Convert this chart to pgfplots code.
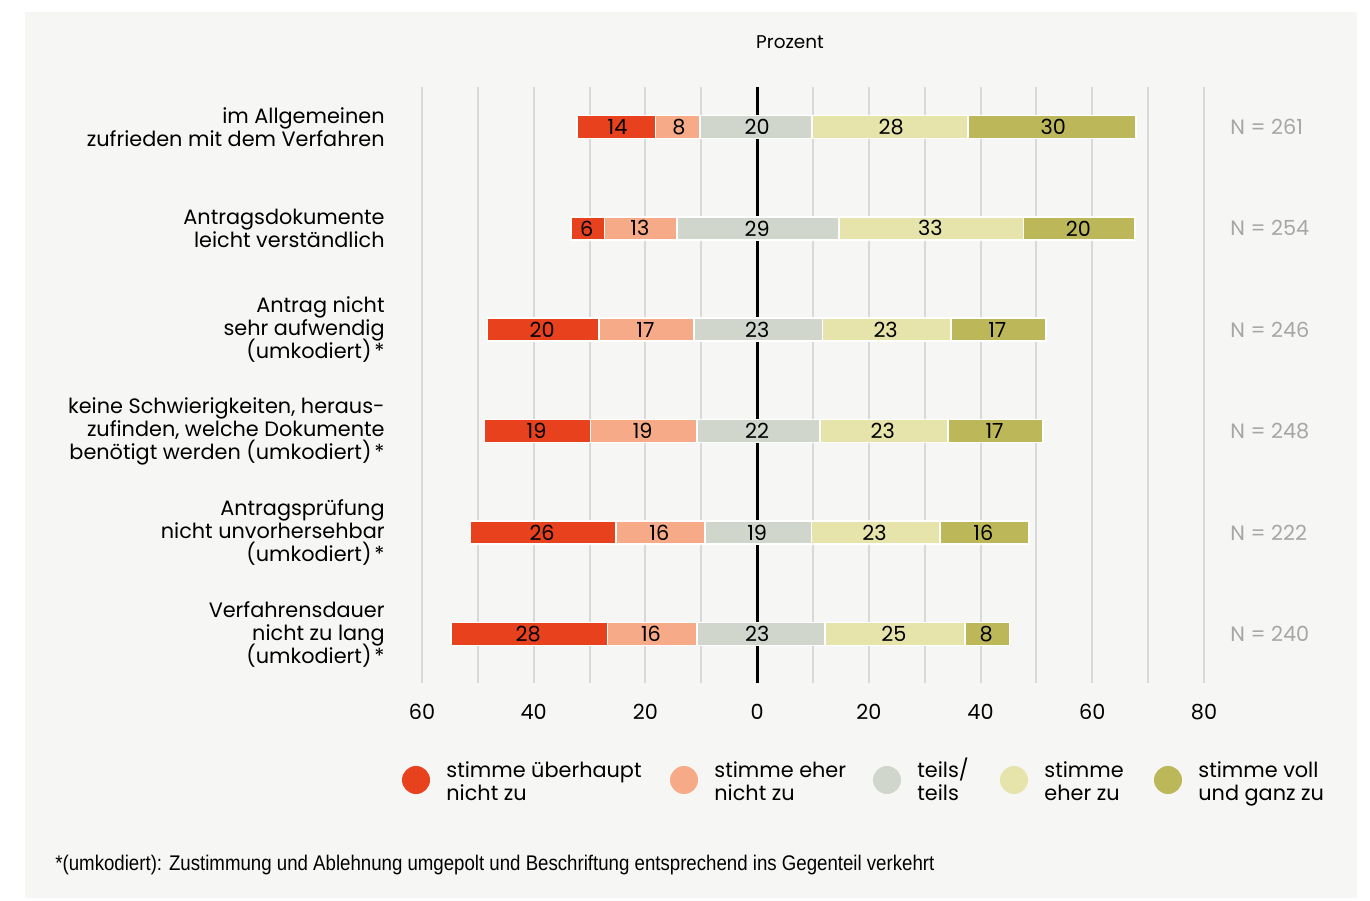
\documentclass[border=0pt]{standalone}
\usepackage{fontspec}
\setmainfont{Poppins}
\newfontfamily\condfont[FakeStretch=0.88]{Liberation Sans}
\usepackage{pgfplots}
\pgfplotsset{compat=1.18}
\definecolor{cA}{HTML}{E8411E}
\definecolor{cB}{HTML}{F6AA88}
\definecolor{cC}{HTML}{D0D6CC}
\definecolor{cD}{HTML}{E6E4AA}
\definecolor{cE}{HTML}{BCB85A}
\definecolor{bg}{HTML}{F6F6F4}
\definecolor{gridc}{HTML}{D9D9D7}
\definecolor{ngray}{HTML}{A6A6A6}
\newcommand\lblfont{\fontsize{10.4}{11.5}\selectfont\lineskiplimit=-20pt\lineskip=0pt}
\begin{document}
\begin{tikzpicture}
\begin{scope}[x=0.5pt,y=0.5pt]
\fill[white] (0,0) rectangle (1370,900);
\fill[bg] (25,2) rectangle (1357,888);
\end{scope}
\pgfplotsset{commonax/.style={
  at={(211pt,108.5pt)}, anchor=south west, scale only axis,
  width=391pt, height=298pt,
  xmin=-60, xmax=80, ymin=0.517, ymax=6.394,
  axis line style={draw=none},
  major tick length=0pt, minor tick length=0pt,
  /pgf/number format/assume math mode=true,
  tick label style={font=\lblfont},
}}
\begin{axis}[commonax,
  xbar stacked, stack negative=on previous, bar width=11.5pt,
  xtick={-60,-40,...,80}, xticklabels={60,40,20,0,20,40,60,80},
  minor xtick={-50,-30,...,70},
  xmajorgrids, xminorgrids,
  grid style={gridc, line width=1pt},
  extra x ticks={0}, extra x tick labels={},
  extra x tick style={grid style={black, line width=1.4pt}},
  xticklabel style={anchor=center, yshift=-14.5pt},
  ytick={1,...,6},
  yticklabels={{Verfahrensdauer\\nicht zu lang\\(umkodiert)\kern1.5pt*},
    {Antragsprüfung\\nicht unvorhersehbar\\(umkodiert)\kern1.5pt*},
    {keine Schwierigkeiten, heraus-\\zufinden, welche Dokumente\\benötigt werden (umkodiert)\kern1.5pt*},
    {Antrag nicht\\sehr aufwendig\\(umkodiert)\kern1.5pt*},
    {Antragsdokumente\\leicht verständlich},
    {im Allgemeinen\\zufrieden mit dem Verfahren}},
  yticklabel style={align=right, anchor=east, inner sep=0pt, xshift=-18.5pt},
  every axis plot/.append style={draw=white, line width=0.8pt},
]
\addplot[draw=none, fill=none] coordinates {(-54.8,1) (-51.3,2) (-48.8,3) (-48.3,4) (-33.3,5) (-32.2,6)};
\addplot[fill=cA] coordinates {(28,1) (26,2) (19,3) (20,4) (6,5) (14,6)};
\addplot[fill=cB] coordinates {(16,1) (16,2) (19,3) (17,4) (13,5) (8,6)};
\addplot[fill=cC] coordinates {(23,1) (19,2) (22,3) (23,4) (29,5) (20,6)};
\addplot[fill=cD] coordinates {(25,1) (23,2) (23,3) (23,4) (33,5) (28,6)};
\addplot[fill=cE] coordinates {(8,1) (16,2) (17,3) (17,4) (20,5) (30,6)};
\end{axis}
\begin{axis}[commonax,
  xtick=\empty, ytick={1,...,6},
  yticklabels={N = 240, N = 222, N = 248, N = 246, N = 254, N = 261},
  yticklabel pos=right,
  yticklabel style={anchor=west, inner sep=0pt, xshift=13pt, text=ngray},
  nodes near coords, point meta=explicit symbolic,
  every node near coord/.append style={anchor=center, font=\lblfont, text=black},
]
\addplot[only marks, mark=none] coordinates {
 (-25,6) [14] (-14,6) [8] (0,6) [20] (24,6) [28] (53,6) [30]
 (-30.5,5) [6] (-21,5) [13] (0,5) [29] (31,5) [33] (57.5,5) [20]
 (-38.5,4) [20] (-20,4) [17] (0,4) [23] (23,4) [23] (43,4) [17]
 (-39.5,3) [19] (-20.5,3) [19] (0,3) [22] (22.5,3) [23] (42.5,3) [17]
 (-38.5,2) [26] (-17.5,2) [16] (0,2) [19] (21,2) [23] (40.5,2) [16]
 (-41,1) [28] (-19,1) [16] (0,1) [23] (24.5,1) [25] (41,1) [8]
};
\end{axis}
\begin{scope}[x=0.5pt,y=0.5pt]
\node[font=\fontsize{9.2}{11}\selectfont] at (790,858) {Prozent};
\foreach \cx/\col/\la/\lb in {416/cA/stimme überhaupt/nicht zu, 684/cB/stimme eher/nicht zu, 887/cC/teils\slash/teils, 1014/cD/stimme/eher zu, 1168/cE/stimme voll/und ganz zu}{
  \fill[\col] (\cx,120) circle (14);
  \node[anchor=base west, inner sep=0pt, font=\lblfont] at (\cx+30,123) {\la};
  \node[anchor=base west, inner sep=0pt, font=\lblfont] at (\cx+30,100) {\lb};
}
\node[anchor=base west, inner sep=0pt, font=\condfont\fontsize{10.6}{12}\selectfont] at (55,30) {*(umkodiert): Zustimmung und Ablehnung umgepolt und Beschriftung entsprechend ins Gegenteil verkehrt};
\end{scope}
\end{tikzpicture}
\end{document}
